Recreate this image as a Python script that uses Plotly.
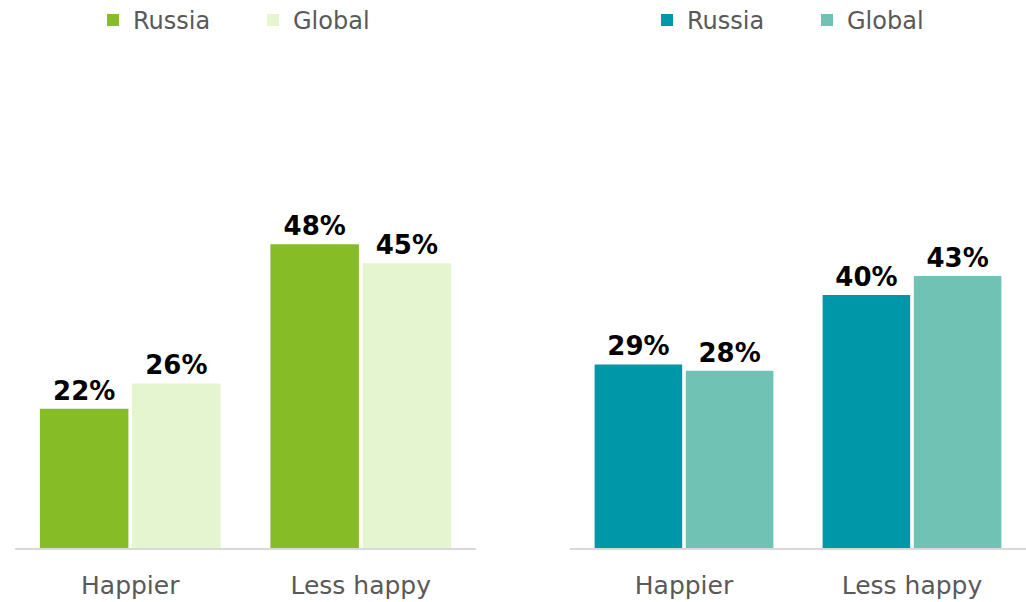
import plotly.graph_objects as go

categories = ["Happier", "Less happy"]
series_names = ["Russia", "Global"]
left_russia = [22, 48]
left_global = [26, 45]
right_russia = [29, 40]
right_global = [28, 43]

GREEN = "#86BC25"
LIGHT_GREEN = "#E4F5D0"
TEAL = "#0097A9"
LIGHT_TEAL = "#6FC2B4"

LABEL_FONT = dict(family="DejaVu Sans", size=26, color="#000000", weight="bold")

fig = go.Figure()

def add_bar(name, x, y, color, xaxis, yaxis, legend):
    fig.add_trace(go.Bar(
        name=name, x=x, y=y,
        marker=dict(color=color, line=dict(width=0)),
        text=[f"{v}%" for v in y], textposition="outside",
        textfont=LABEL_FONT, cliponaxis=False,
        xaxis=xaxis, yaxis=yaxis, legend=legend,
        hoverinfo="skip",
    ))

add_bar(series_names[0], categories, left_russia, GREEN, "x", "y", "legend")
add_bar(series_names[1], categories, left_global, LIGHT_GREEN, "x", "y", "legend")
add_bar(series_names[0], categories, right_russia, TEAL, "x2", "y2", "legend2")
add_bar(series_names[1], categories, right_global, LIGHT_TEAL, "x2", "y2", "legend2")

W = 1026
axis_common = dict(
    showline=True, linecolor="#D9D9D9", linewidth=2,
    showgrid=False, zeroline=False, ticks="",
    tickfont=dict(family="DejaVu Sans", size=25, color="#595959"),
    ticklabelstandoff=14,
)
yaxis_common = dict(range=[0, 86.6], visible=False, showgrid=False, zeroline=False)

legend_common = dict(
    orientation="h", font=dict(family="DejaVu Sans", size=24, color="#595959"),
    bgcolor="rgba(0,0,0,0)", yanchor="top", y=1.004, xanchor="left",
    entrywidth=115, entrywidthmode="pixels", traceorder="normal",
)

fig.update_layout(
    width=W, height=602,
    margin=dict(l=0, r=0, t=0, b=54, autoexpand=False),
    paper_bgcolor="white", plot_bgcolor="white",
    barmode="group", bargap=0.2, bargroupgap=0.04,
    xaxis=dict(domain=[15 / W, 476 / W], **axis_common),
    xaxis2=dict(domain=[570 / W, 1.0], anchor="y2", **axis_common),
    yaxis=dict(**yaxis_common),
    yaxis2=dict(anchor="x2", **yaxis_common),
    legend=dict(x=93 / W, **legend_common),
    legend2=dict(x=647 / W, **legend_common),
    showlegend=True,
)

fig.write_html(
    "out.html",
    config={"displayModeBar": False},
    post_script="document.body.style.margin='0px';document.body.style.overflow='hidden';",
)
